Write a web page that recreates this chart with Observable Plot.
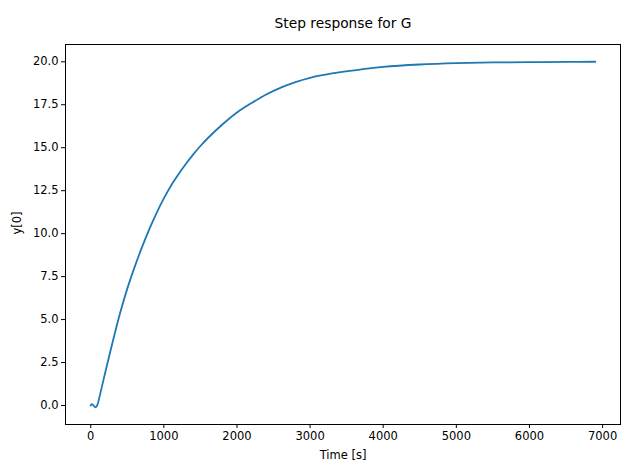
<!DOCTYPE html>
<html>
<head>
<meta charset="utf-8">
<script src="https://cdn.jsdelivr.net/npm/d3@7"></script>
<script src="https://cdn.jsdelivr.net/npm/@observablehq/plot@0.6"></script>
<style>
  html, body { margin: 0; padding: 0; background: white; }
</style>
</head>
<body>
<div id="chart"></div>
<script>
const title = "Step response for G";
const xLabel = "Time [s]";
const yLabel = "y[0]";
const xTicks = [0, 1000, 2000, 3000, 4000, 5000, 6000, 7000];
const yTicks = [0, 2.5, 5, 7.5, 10, 12.5, 15, 17.5, 20];

const times = [0, 15, 35, 60, 80, 100, 120, 200, 300, 400, 500, 600, 700, 800, 900, 1000,
  1100, 1200, 1300, 1400, 1500, 1600, 1800, 2000, 2200, 2400, 2600, 2800, 3000, 3300,
  3600, 4000, 4500, 5000, 5500, 6000, 6500, 6900];
const values = [0.0, 0.08, 0.02, -0.1, -0.05, 0.15, 0.5, 1.95, 3.7, 5.35, 6.8, 8.05, 9.2, 10.25, 11.2, 12.05,
  12.8, 13.45, 14.05, 14.6, 15.1, 15.55, 16.35, 17.05, 17.6, 18.1, 18.5, 18.82, 19.07, 19.32,
  19.5, 19.7, 19.84, 19.92, 19.96, 19.98, 19.99, 20.0];

const data = times.map((t, i) => ({t, y: values[i]}));

const chart = Plot.plot({
  width: 630,
  height: 475,
  marginLeft: 65,
  marginRight: 10,
  marginTop: 44,
  marginBottom: 51,
  style: {fontFamily: "DejaVu Sans", fontSize: "11.5px", color: "black", background: "white"},
  x: {domain: [-345, 7245]},
  y: {domain: [-1.105, 21.005]},
  marks: [
    Plot.axisX({ticks: xTicks, tickSize: 4, tickPadding: 3, label: null, tickFormat: d3.format("d")}),
    Plot.axisY({ticks: yTicks, tickSize: 4, tickPadding: 3, label: null, tickFormat: d3.format(".1f")}),
    Plot.line(data, {x: "t", y: "y", stroke: "#1f77b4", strokeWidth: 1.8, curve: "catmull-rom"}),
    Plot.frame({stroke: "black", strokeWidth: 1}),
    Plot.text([title], {text: d => d, frameAnchor: "top", dy: -26, fontSize: 13.8}),
    Plot.text([xLabel], {text: d => d, frameAnchor: "bottom", dy: 34, fontSize: 11.5}),
    Plot.text([yLabel], {text: d => d, frameAnchor: "left", dx: -48, rotate: -90, fontSize: 11.5})
  ]
});
document.getElementById("chart").appendChild(chart);
</script>
</body>
</html>
